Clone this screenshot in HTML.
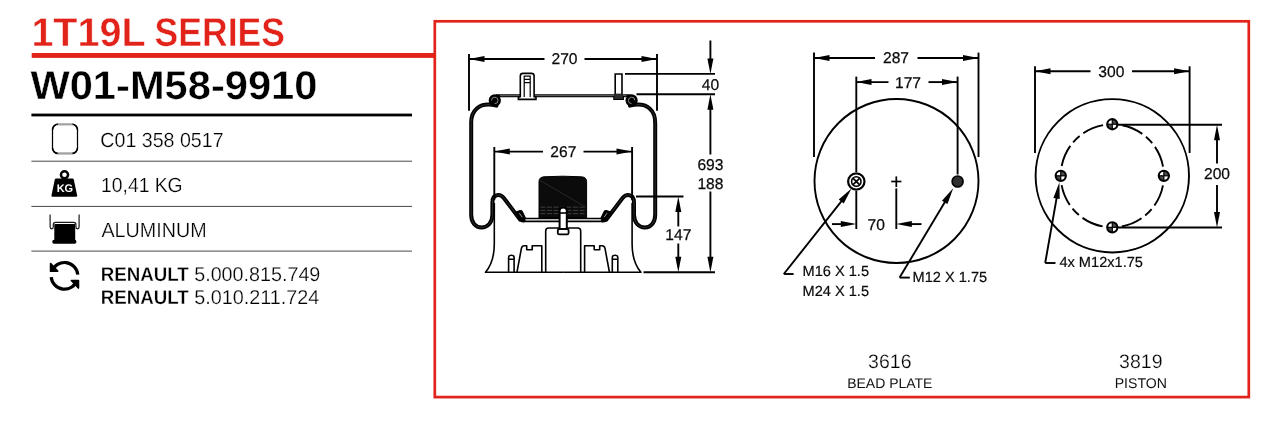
<!DOCTYPE html>
<html><head><meta charset="utf-8">
<style>
html,body{margin:0;padding:0;background:#fff;}
body{width:1288px;height:439px;overflow:hidden;position:relative;font-family:"Liberation Sans",sans-serif;}
svg{position:absolute;left:0;top:0;will-change:transform;}
text{font-family:"Liberation Sans",sans-serif;text-rendering:geometricPrecision;}
.dim{font-size:15.6px;fill:#0a0a0a;stroke:#0a0a0a;stroke-width:0.25;}
.lbl{font-size:14.6px;fill:#0a0a0a;stroke:#0a0a0a;stroke-width:0.2;}
.ln{stroke:#000;stroke-width:1.9;fill:none;}
.ln17{stroke:#000;stroke-width:1.7;fill:none;}
.ln2{stroke:#000;stroke-width:1.6;fill:none;stroke-linejoin:round;}
.bel{stroke:#000;stroke-width:4;stroke-linejoin:round;fill:none;stroke-linecap:round;}
.thin{stroke:#000;stroke-width:1.2;fill:none;}
.ar{fill:#000;stroke:none;}
.er1{stroke:#fff;stroke-width:0.5;paint-order:fill stroke;}
.er3{stroke:#fff;stroke-width:0.3;paint-order:fill stroke;}
.er4{stroke:#fff;stroke-width:0.25;paint-order:fill stroke;}
.er2{stroke:#fff;stroke-width:0.4;paint-order:fill stroke;}
</style></head>
<body>
<svg width="1288" height="439" viewBox="0 0 1288 439">
<!-- FRAME -->
<g id="frame">
<rect x="434.8" y="21.3" width="814" height="375.8" fill="none" stroke="#e2231a" stroke-width="2.7"/>
<rect x="31.7" y="53" width="403" height="4.9" fill="#e2231a"/>
</g>
<!-- LEFT PANEL -->
<g id="left">
<text class="er1" id="t_series1" transform="translate(31.4,46.4) scale(0.9830,1)" font-size="40.2" font-weight="bold" fill="#e2231a">1T19L</text>
<text class="er1" id="t_series2" transform="translate(154.5,46.4) scale(0.8850,1)" font-size="40.2" font-weight="bold" fill="#e2231a">SERIES</text>
<text class="er2" id="t_part" transform="translate(30.4,99) scale(1.0390,1)" font-size="40.1" font-weight="bold" fill="#000">W01-M58-9910</text>
<text class="er4" id="t_r1" transform="translate(100.3,146.9) scale(0.9570,1)" font-size="20.5" fill="#000">C01 358 0517</text>
<text class="er4" id="t_r2" transform="translate(101.1,192) scale(0.9410,1)" font-size="20.5" fill="#000">10,41 KG</text>
<text class="er4" id="t_r3" transform="translate(101.4,236.9) scale(0.9620,1)" font-size="20.5" fill="#000">ALUMINUM</text>
<text class="er3" id="t_r4a" transform="translate(100.7,280.7) scale(0.9460,1)" font-size="19.8" font-weight="bold" fill="#000">RENAULT</text>
<text class="er4" id="t_r4b" transform="translate(194.2,280.7) scale(0.9860,1)" font-size="20" fill="#000">5.000.815.749</text>
<text class="er3" id="t_r5a" transform="translate(100.7,304.3) scale(0.9460,1)" font-size="19.8" font-weight="bold" fill="#000">RENAULT</text>
<text class="er4" id="t_r5b" transform="translate(194.2,304.3) scale(0.9900,1)" font-size="20" fill="#000">5.010.211.724</text>
<rect x="31.4" y="113.6" width="380.6" height="2.8" fill="#000"/>
<rect x="31.4" y="160.7" width="380.6" height="1" fill="#4a4a4a"/>
<rect x="31.4" y="205.9" width="380.6" height="1" fill="#4a4a4a"/>
<rect x="31.4" y="250.6" width="380.6" height="1" fill="#4a4a4a"/>
</g>
<!-- ICONS -->
<g id="icons">
<!-- icon1 -->
<rect x="52.5" y="124.2" width="25.0" height="29.299999999999997" rx="5.6" fill="#fff" stroke="#000" stroke-width="1.25"/>
<path d="M52.5,129.8 A5.6,5.6 0 0 1 58.1,124.2 M71.9,124.2 A5.6,5.6 0 0 1 77.5,129.8 M77.5,147.9 A5.6,5.6 0 0 1 71.9,153.5 M58.1,153.5 A5.6,5.6 0 0 1 52.5,147.9" fill="none" stroke="#000" stroke-width="1.6"/>
<rect x="58" y="123.1" width="14.2" height="2.2" fill="#fff"/><rect x="58" y="152.4" width="14.2" height="2.2" fill="#fff"/>
<rect x="57.6" y="123.5" width="15" height="1.8" fill="#7c7c7c"/><rect x="57.6" y="152.5" width="15" height="1.8" fill="#7c7c7c"/>
<rect x="58.5" y="124.1" width="13.2" height="0.6" fill="#bdbdbd"/><rect x="58.5" y="153.1" width="13.2" height="0.6" fill="#bdbdbd"/>
<!-- icon2 KG -->
<path d="M56.2,178.4 L72.4,178.4 Q73.5,178.4 73.8,179.5 L77.1,195.2 Q77.4,196.7 75.9,196.7 L52.7,196.7 Q51.2,196.7 51.5,195.2 L54.8,179.5 Q55.1,178.4 56.2,178.4 Z" fill="#000"/>
<circle cx="64.5" cy="174.8" r="3.55" fill="#fff" stroke="#000" stroke-width="2.5"/>
<text x="64.9" y="192.4" font-size="11" font-weight="bold" fill="#fff" text-anchor="middle" letter-spacing="-0.2">KG</text>
<!-- icon3 piston -->
<path d="M54.3,224.6 Q54.3,223.9 55,223.9 L74.5,223.9 Q75.2,223.9 75.2,224.6 L75.2,241 L54.3,241 Z" fill="#000"/>
<rect x="52.3" y="239.7" width="24.1" height="4" rx="1.8" fill="#000"/>
<path d="M50.1,214.5 L50.1,226.8 Q50.1,228.8 51.7,228.8 Q53.3,228.8 53.3,226.8 L53.3,224.5 Q53.3,222.3 55.5,222.3 L73.7,222.3 Q75.9,222.3 75.9,224.5 L75.9,226.8 Q75.9,228.8 77.5,228.8 Q79.1,228.8 79.1,226.8 L79.1,214.5" fill="none" stroke="#1a1a1a" stroke-width="1.2"/>
<!-- icon4 refresh -->
<g id="rfh"><path d="M51.96,271.28 A13.35,13.35 0 0 1 77.79,274.59" fill="none" stroke="#000" stroke-width="3.2"/>
<polygon points="50.6,263.7 50.6,271.2 57.6,271.2" fill="#000" stroke="#000" stroke-width="1.7" stroke-linejoin="round"/></g>
<use href="#rfh" transform="rotate(180 64.50 275.85)"/>
</g>
<!-- AIR SPRING -->
<g id="spring">
<g id="sbL">
<path class="bel" d="M496.5,105.6 C489,103.8 481.4,104.4 476.8,108.4 C472.9,111.8 471,116.8 471.2,123.4 L471.2,214.5 C471.2,222.5 475.4,227.4 481.6,227.4 C487.8,227.4 492.4,222.5 492.4,214.5 L492.4,203 C492.4,197.6 494.8,195 498.2,195 C500.8,195 502.4,196.2 504,198.2 L520.2,219.8 L523.5,220.4"/>
<path d="M496.5,105.6 C489,103.8 481.4,104.4 476.8,108.4 C472.9,111.8 471,116.8 471.2,123.4 L471.2,214.5 C471.2,222.5 475.4,227.4 481.6,227.4 C487.8,227.4 492.4,222.5 492.4,214.5 L492.4,203 C492.4,197.6 494.8,195 498.2,195 C500.8,195 502.4,196.2 504,198.2 L518,216.6" fill="none" stroke="#5a5a5a" stroke-width="0.5"/>
<path d="M524,218.5 L563.2,218.5" fill="none" stroke="#000" stroke-width="1.3"/>
<path d="M521,221.4 L563.2,221.4" fill="none" stroke="#000" stroke-width="1.9"/>
<circle cx="494.8" cy="100.4" r="6.1" fill="#000"/>
<path d="M491.6,100.4 A3.2,3.2 0 1 1 494.8,103.6" fill="none" stroke="#9a9a9a" stroke-width="0.9"/>
<path d="M515.4,212.4 L520,210.6 Q521.4,210.2 522.2,211.6 L525.6,218.6 L520,218.6 Z" fill="#000" stroke="#000" stroke-width="1.2" stroke-linejoin="round"/>
<path d="M519.4,213.2 L522.2,217.2" fill="none" stroke="#ddd" stroke-width="0.7"/>
<path class="ln2" d="M494.3,203 L494.3,244 C494.3,258 490.8,266 485.5,272.3 L563.2,272.3"/>
<path class="ln2" d="M517,272 L521.4,248.4 Q522,245.7 524.4,245.7 L526.7,245.7 L526.7,249.7 L532.2,249.7 L532.2,245.7 L541.8,245.7 L541.8,272"/>
<path class="ln2" d="M545.7,272 L545.7,231 Q545.7,228 548.7,228 L563.2,228"/>
<path class="ln2" d="M508.6,272 L508.6,257.4 Q508.6,255.2 511.35,255.2 Q514.1,255.2 514.1,257.4 L514.1,272 M508.6,259.2 L514.1,259.2" fill="#fff"/>
</g>
<use href="#sbL" transform="translate(1126.4,0) scale(-1,1)"/>
<line x1="496" y1="95.7" x2="630.4" y2="95.7" stroke="#000" stroke-width="3.1"/>
<line x1="500" y1="95.7" x2="626.4" y2="95.7" stroke="#7a7a7a" stroke-width="0.9"/>
<path d="M518.4,99.4 L518.4,97.3 L520.3,96.6 L520.3,76 Q520.3,73.4 523,73.4 L531.4,73.4 Q534.1,73.4 534.1,76 L534.1,96.6 L536,97.3 L536,99.4 Z" fill="#fff" stroke="#000" stroke-width="1.6"/>
<path class="thin" d="M524.2,97 L524.2,76.2 L530.2,76.2 L530.2,97 M524.2,79.4 L530.2,79.4 M524.2,82.6 L530.2,82.6"/>
<path d="M614,99.2 L614,96.8 L615.2,96.8 L615.2,74 L622,74 L622,96.8 L623.2,96.8 L623.2,99.2 Z" fill="#fff" stroke="#000" stroke-width="1.6"/>
<rect x="614.4" y="93.6" width="8.4" height="5.4" fill="#2b2b2b"/>
<path d="M539,218 L539,181.6 Q539,177.2 544,176.8 Q562.8,175.6 581.6,176.8 Q586.6,177.2 586.6,181.6 L586.6,218 Z" fill="#0b0b0b" stroke="#000" stroke-width="1"/>
<path d="M540.5,207.2 H585 M540.5,210.4 H585 M540.5,213.6 H585" stroke="#555" stroke-width="0.7" stroke-dasharray="5 1.5" fill="none"/>
<line x1="540" y1="180.5" x2="585.5" y2="207" stroke="#3a3a3a" stroke-width="0.6"/>
<path d="M559.6,229 L559.6,210.4 Q559.6,207.4 563.2,207.4 Q566.8,207.4 566.8,210.4 L566.8,229 Z" fill="#fff" stroke="#000" stroke-width="2"/>
<line x1="559.6" y1="213" x2="566.8" y2="213" stroke="#000" stroke-width="1.6"/>
<rect x="557.8" y="229" width="10.8" height="5.4" rx="1.5" fill="#fff" stroke="#000" stroke-width="1.8"/>
<line class="ln" x1="469" y1="54" x2="469" y2="110.7"/>
<line class="ln" x1="657" y1="54" x2="657" y2="110.7"/>
<line class="ln" x1="469" y1="59" x2="544.5" y2="59"/>
<line class="ln" x1="584.5" y1="59" x2="657" y2="59"/>
<polygon class="ar" points="469,59 484.5,62 484.5,56"/>
<polygon class="ar" points="657,59 641.5,56 641.5,62"/>
<text class="dim" x="564.5" y="64.4" text-anchor="middle" id="d270">270</text>
<line class="ln" x1="494.3" y1="147" x2="494.3" y2="200"/>
<line class="ln" x1="632.1" y1="147" x2="632.1" y2="200"/>
<line class="ln" x1="494.3" y1="151.6" x2="543" y2="151.6"/>
<line class="ln" x1="583.5" y1="151.6" x2="632" y2="151.6"/>
<polygon class="ar" points="494.3,151.6 509.8,154.6 509.8,148.6"/>
<polygon class="ar" points="632,151.6 616.5,148.6 616.5,154.6"/>
<text class="dim" x="563.3" y="157" text-anchor="middle" id="d267">267</text>
<line class="ln" x1="625" y1="73.9" x2="715" y2="73.9"/>
<line class="ln" x1="636.5" y1="94.3" x2="715" y2="94.3"/>
<line class="ln" x1="710.4" y1="40.5" x2="710.4" y2="62"/>
<polygon class="ar" points="710.4,73.9 713.4,58.4 707.4,58.4"/>
<polygon class="ar" points="710.4,94.3 707.4,109.8 713.4,109.8"/>
<line class="ln" x1="710.4" y1="106" x2="710.4" y2="154.5"/>
<line class="ln" x1="710.4" y1="191.5" x2="710.4" y2="260"/>
<polygon class="ar" points="710.4,272.2 713.4,256.7 707.4,256.7"/>
<text class="dim" x="710.4" y="89.8" text-anchor="middle" id="d40">40</text>
<text class="dim" x="710.4" y="169.6" text-anchor="middle" id="d693">693</text>
<text class="dim" x="710.4" y="188.9" text-anchor="middle" id="d188">188</text>
<line class="ln" x1="636" y1="196.5" x2="683.5" y2="196.5"/>
<line class="ln" x1="643.5" y1="272.2" x2="715" y2="272.2"/>
<polygon class="ar" points="678.3,196.5 675.3,212 681.3,212"/>
<line class="ln" x1="678.3" y1="208" x2="678.3" y2="226.4"/>
<line class="ln" x1="678.3" y1="243.5" x2="678.3" y2="260"/>
<polygon class="ar" points="678.3,272.2 681.3,256.7 675.3,256.7"/>
<text class="dim" x="678.3" y="239.8" text-anchor="middle" id="d147">147</text>
</g>
<!-- BEAD PLATE -->
<g id="bead">
<circle class="ln" cx="896.5" cy="181" r="82"/>
<line class="ln" x1="814" y1="52.6" x2="814" y2="157"/>
<line class="ln" x1="978.5" y1="52.6" x2="978.5" y2="157"/>
<line class="ln" x1="814" y1="58" x2="875" y2="58"/>
<line class="ln" x1="917.5" y1="58" x2="978.5" y2="58"/>
<polygon class="ar" points="814,58 829.5,61 829.5,55"/>
<polygon class="ar" points="978.5,58 963,55 963,61"/>
<text class="dim" x="896" y="63.4" text-anchor="middle" id="d287">287</text>
<line class="ln" x1="856.3" y1="76.6" x2="856.3" y2="172"/>
<line class="ln" x1="957.6" y1="76.6" x2="957.6" y2="174.5"/>
<line class="ln" x1="856" y1="82.1" x2="888.5" y2="82.1"/>
<line class="ln" x1="928.5" y1="82.1" x2="957.5" y2="82.1"/>
<polygon class="ar" points="856,82.1 871.5,85.1 871.5,79.1"/>
<polygon class="ar" points="957.5,82.1 942,79.1 942,85.1"/>
<text class="dim" x="908" y="87.5" text-anchor="middle" id="d177">177</text>
<circle cx="856.3" cy="181.5" r="8.2" fill="#fff" stroke="#000" stroke-width="2.2"/>
<circle cx="856.3" cy="181.5" r="4.7" fill="#fff" stroke="#000" stroke-width="1.6"/>
<line class="ln17" x1="853.1" y1="178.3" x2="859.5" y2="184.7"/>
<line class="ln17" x1="859.5" y1="178.3" x2="853.1" y2="184.7"/>
<circle cx="957.6" cy="181.5" r="5.5" fill="#303030" stroke="#000" stroke-width="1.6"/>
<line class="ln17" x1="891.2" y1="181.5" x2="901.4" y2="181.5"/>
<line class="ln17" x1="896.3" y1="176.4" x2="896.3" y2="187"/>
<line class="ln" x1="896.3" y1="188.4" x2="896.3" y2="229"/>
<line class="ln" x1="856.3" y1="191" x2="856.3" y2="229"/>
<line class="ln" x1="832" y1="224.1" x2="844" y2="224.1"/>
<polygon class="ar" points="856.3,224.1 840.8,221.1 840.8,227.1"/>
<polygon class="ar" points="896.3,224.1 911.8,227.1 911.8,221.1"/>
<line class="ln" x1="908" y1="224.1" x2="921.5" y2="224.1"/>
<text class="dim" x="876.3" y="229.7" text-anchor="middle" id="d70">70</text>
<polygon class="ar" points="851.5,188.6 838.74,199.54 843.76,203.52"/>
<line class="ln" x1="845.29" y1="196.44" x2="783.8" y2="274"/>
<line class="ln" x1="783.8" y1="274" x2="793.6" y2="274"/>
<polygon class="ar" points="953.2,188.2 941.97,200.71 947.46,204"/>
<line class="ln" x1="948.06" y1="196.78" x2="899.6" y2="277.6"/>
<line class="ln" x1="899.6" y1="277.6" x2="909.8" y2="277.6"/>
<text class="lbl" x="802.5" y="275.5" text-anchor="start" id="l16">M16 X 1.5</text>
<text class="lbl" x="802.5" y="295.5" text-anchor="start" id="l24">M24 X 1.5</text>
<text class="lbl" x="912.5" y="281.6" text-anchor="start" id="l12">M12 X 1.75</text>
</g>
<!-- PISTON -->
<g id="piston">
<circle class="ln" cx="1112.3" cy="175.8" r="76.7"/>
<circle class="ln" cx="1112.3" cy="175.8" r="51.55" stroke-dasharray="0 9.6 22 4.6 9 4.6 21.5 9.67"/>
<circle cx="1112.3" cy="124.25" r="5.1" fill="#fff" stroke="none"/>
<path d="M1112.3,124.25 L1112.3,119.15 A5.1,5.1 0 0 1 1117.4,124.25 Z" fill="#4a4a4a"/>
<path d="M1112.3,124.25 L1112.3,129.35 A5.1,5.1 0 0 1 1107.2,124.25 Z" fill="#4a4a4a"/>
<circle cx="1112.3" cy="124.25" r="5.1" fill="none" stroke="#000" stroke-width="2.1"/>
<line class="thin" x1="1107.3" y1="124.25" x2="1117.3" y2="124.25"/>
<line class="thin" x1="1112.3" y1="119.25" x2="1112.3" y2="129.25"/>
<circle cx="1163.85" cy="175.8" r="5.1" fill="#fff" stroke="none"/>
<path d="M1163.85,175.8 L1163.85,170.7 A5.1,5.1 0 0 1 1168.95,175.8 Z" fill="#4a4a4a"/>
<path d="M1163.85,175.8 L1163.85,180.9 A5.1,5.1 0 0 1 1158.75,175.8 Z" fill="#4a4a4a"/>
<circle cx="1163.85" cy="175.8" r="5.1" fill="none" stroke="#000" stroke-width="2.1"/>
<line class="thin" x1="1158.85" y1="175.8" x2="1168.85" y2="175.8"/>
<line class="thin" x1="1163.85" y1="170.8" x2="1163.85" y2="180.8"/>
<circle cx="1112.3" cy="227.35" r="5.1" fill="#fff" stroke="none"/>
<path d="M1112.3,227.35 L1112.3,222.25 A5.1,5.1 0 0 1 1117.4,227.35 Z" fill="#4a4a4a"/>
<path d="M1112.3,227.35 L1112.3,232.45 A5.1,5.1 0 0 1 1107.2,227.35 Z" fill="#4a4a4a"/>
<circle cx="1112.3" cy="227.35" r="5.1" fill="none" stroke="#000" stroke-width="2.1"/>
<line class="thin" x1="1107.3" y1="227.35" x2="1117.3" y2="227.35"/>
<line class="thin" x1="1112.3" y1="222.35" x2="1112.3" y2="232.35"/>
<circle cx="1060.75" cy="175.8" r="5.1" fill="#fff" stroke="none"/>
<path d="M1060.75,175.8 L1060.75,170.7 A5.1,5.1 0 0 1 1065.85,175.8 Z" fill="#4a4a4a"/>
<path d="M1060.75,175.8 L1060.75,180.9 A5.1,5.1 0 0 1 1055.65,175.8 Z" fill="#4a4a4a"/>
<circle cx="1060.75" cy="175.8" r="5.1" fill="none" stroke="#000" stroke-width="2.1"/>
<line class="thin" x1="1055.75" y1="175.8" x2="1065.75" y2="175.8"/>
<line class="thin" x1="1060.75" y1="170.8" x2="1060.75" y2="180.8"/>
<line class="ln" x1="1035" y1="66.3" x2="1035" y2="153"/>
<line class="ln" x1="1189.6" y1="66.3" x2="1189.6" y2="153"/>
<line class="ln" x1="1035" y1="71.3" x2="1090.5" y2="71.3"/>
<line class="ln" x1="1132" y1="71.3" x2="1189.6" y2="71.3"/>
<polygon class="ar" points="1035,71.3 1050.5,74.3 1050.5,68.3"/>
<polygon class="ar" points="1189.6,71.3 1174.1,68.3 1174.1,74.3"/>
<text class="dim" x="1111.3" y="76.7" text-anchor="middle" id="d300">300</text>
<line class="ln" x1="1118" y1="124.8" x2="1222" y2="124.8"/>
<line class="ln" x1="1118" y1="227.5" x2="1222" y2="227.5"/>
<polygon class="ar" points="1217,124.8 1214,140.3 1220,140.3"/>
<line class="ln" x1="1217" y1="136" x2="1217" y2="163.5"/>
<line class="ln" x1="1217" y1="185" x2="1217" y2="216"/>
<polygon class="ar" points="1217,227.5 1220,212 1214,212"/>
<text class="dim" x="1217" y="179.3" text-anchor="middle" id="d200">200</text>
<polygon class="ar" points="1059.4,182.2 1053.39,197.9 1059.7,199"/>
<line class="ln" x1="1057.67" y1="192.05" x2="1045.2" y2="263"/>
<line class="ln" x1="1045.2" y1="263" x2="1055.5" y2="263"/>
<text class="lbl" x="1059.4" y="266.8" text-anchor="start" id="l4x">4x M12x1.75</text>
</g>
<!-- BOTTOM LABELS -->
<g id="labels">
<text id="t_3616" x="889.8" y="368.1" font-size="19.5" text-anchor="middle" fill="#000" class="er4">3616</text>
<text id="t_bead" x="889.8" y="388.1" font-size="14" text-anchor="middle" fill="#111">BEAD PLATE</text>
<text id="t_3819" x="1140.8" y="368.1" font-size="19.5" text-anchor="middle" fill="#000" class="er4">3819</text>
<text id="t_piston" x="1140.8" y="388.1" font-size="14.1" text-anchor="middle" fill="#111">PISTON</text>
</g>
</svg>
</body></html>
